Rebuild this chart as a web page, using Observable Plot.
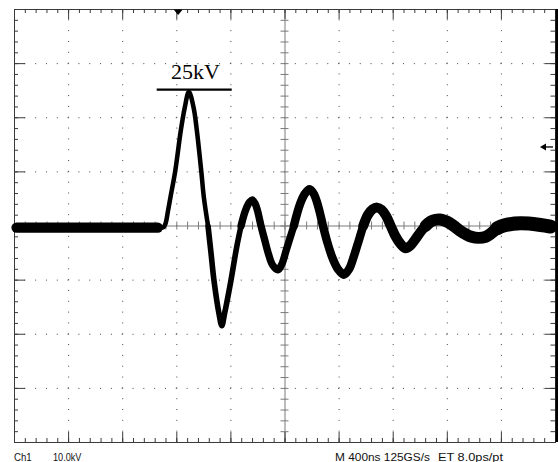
<!DOCTYPE html>
<html><head><meta charset="utf-8">
<script src="https://cdn.jsdelivr.net/npm/d3@7"></script>
<script src="https://cdn.jsdelivr.net/npm/@observablehq/plot@0.6"></script>
<style>
body{margin:0;background:#fff;}
#wrap{width:558px;height:462px;overflow:hidden;background:#fff;}
#wrap svg{display:block;}
</style></head><body><div id="wrap"></div>
<script>
// ---- data (time in ns, voltage in kV, noise half-band in kV) ----
const timeNs = [15,
  1060,1100,1116,1135,1153,1188,1230,1259,1289,1324,1348,1381,1400,
  1431,1453,1475,1512,1533,1553,1600,1642,
  1675,1708,1738,1758,1778,1797,1819,1849,1878,1908,1947,1974,2011,
  2065,2112,2148,2181,2214,2248,2281,2314,2351,2392,2435,2473,2509,2544,
  2578,2614,2647,2682,2714,2747,2782,2817,2854,2891,2928,2965,3002,
  3039,3076,3113,3145,3179,3213,3248,3290,3335,3379,3431,3483,3527,
  3569,3618,3741,3889,3963];
const voltageKV = [-0.3,
  -0.3,-0.25,0.4,2.8,5.3,10.1,17.7,21.9,24.8,21.9,17.7,10.1,5.3,
  0,-5.0,-10.1,-16.2,-18.4,-16.2,-10.1,-4.0,
  0,2.9,4.4,4.8,4.2,2.8,0.4,-2.5,-5.2,-7.2,-8.1,-7.2,-4.3,
  0,4.1,6.0,6.8,5.9,3.4,0,-3.1,-5.9,-8.0,-9.0,-8.0,-5.6,-2.8,
  0,2.1,3.1,3.4,3.0,1.9,0,-1.9,-3.3,-4.1,-3.6,-2.4,-1.1,
  0,0.8,1.15,1.2,1.0,0.6,0,-0.8,-1.5,-2.0,-2.2,-2.0,-1.3,
  -0.4,0.1,0.5,0.2,-0.1];
const noiseKV = [0.95,
  0.42,0.42,0.42,0.42,0.42,0.42,0.42,0.42,0.42,0.42,0.42,0.42,0.42,
  0.52,0.52,0.52,0.52,0.52,0.52,0.52,0.52,
  0.68,0.68,0.68,0.68,0.68,0.68,0.68,0.68,0.68,0.68,0.68,0.68,0.68,
  0.78,0.78,0.78,0.78,0.78,0.78,0.78,0.78,0.78,0.78,0.78,0.78,0.78,0.78,
  0.92,0.92,0.92,0.92,0.92,0.92,0.92,0.92,0.92,0.92,0.92,0.92,0.92,
  1.1,1.1,1.1,1.1,1.1,1.1,1.1,1.1,1.1,1.1,1.1,1.1,1.1,
  1.3,1.3,1.3,1.3,1.3];

const timePerDivNs = 400, kVPerDiv = 10, divisionsX = 10, divisionsY = 8, minorPerDiv = 5;
const peakLabel = "25kV";
const peakLevelKV = 25.2;
const peakMarkerNs = [1055, 1610];
const peakLabelNs = 1338;
const triggerTimeNs = 1210;
const triggerLevelKV = 14.6;
const readouts = ["Ch1", "10.0kV", "M 400ns 125GS/s", "ET 8.0ps/pt"];

// ---- layout ----
const W = 558, H = 446, mT = 9, mB = 4, mL = 14, mR = 3;
const tMax = timePerDivNs * divisionsX, vMax = kVPerDiv * divisionsY / 2;
const pxPerKV = (H - mT - mB) / (2 * vMax);
const pxPerNs = (W - mL - mR) / tMax;
const kv = px => px / pxPerKV, ns = px => px / pxPerNs;

const trace = timeNs.map((t, i) => ({t, v: voltageKV[i], n: noiseKV[i]}));
const minorT = d3.range(0, tMax + 1, timePerDivNs / minorPerDiv);
const majorT = d3.range(0, tMax + 1, timePerDivNs);
const minorV = d3.range(-vMax, vMax + 0.01, kVPerDiv / minorPerDiv);
const majorV = d3.range(-vMax, vMax + 0.01, kVPerDiv);
const gridT = majorT.filter(t => t > 0 && t < tMax && t !== tMax / 2);
const gridV = majorV.filter(v => v > -vMax && v < vMax && v !== 0);
const perV = (H - mT - mB) / (divisionsY * minorPerDiv);
const perH = (W - mL - mR) / (divisionsX * minorPerDiv);

const frameC = "#3a3a3a", centerC = "#7a7a7a", dotC = "#444";
const downTri = {draw(ctx) { ctx.moveTo(-4.5, -2.5); ctx.lineTo(4.5, -2.5); ctx.lineTo(0, 3); ctx.closePath(); }};
const headTri = {draw(ctx) { ctx.moveTo(-3.5, -2.5); ctx.lineTo(3.5, -2.5); ctx.lineTo(0, 3.5); ctx.closePath(); }};

const chart = Plot.plot({
  width: W, height: H, marginTop: mT, marginBottom: mB, marginLeft: mL, marginRight: mR,
  x: {domain: [0, tMax], axis: null},
  y: {domain: [-vMax, vMax], axis: null},
  style: {background: "#fff", overflow: "visible"},
  marks: [
    // dotted graticule
    Plot.ruleX(gridT, {stroke: dotC, strokeDasharray: `1,${perV - 1}`, strokeDashoffset: 0.5}),
    Plot.ruleY(gridV, {stroke: dotC, strokeDasharray: `1,${perH - 1}`, strokeDashoffset: 0.5}),
    // center crosshair with minor ticks
    Plot.ruleX([tMax / 2], {stroke: centerC}),
    Plot.ruleY([0], {stroke: centerC}),
    Plot.ruleX(minorT, {x: d => d, y1: -kv(4), y2: kv(4), stroke: centerC}),
    Plot.ruleY(minorV, {y: d => d, x1: tMax / 2 - ns(4), x2: tMax / 2 + ns(4), stroke: centerC}),
    // border ticks
    Plot.ruleX(minorT, {x: d => d, y1: vMax, y2: vMax - kv(4), stroke: frameC}),
    Plot.ruleX(minorT, {x: d => d, y1: -vMax, y2: -vMax + kv(4), stroke: frameC}),
    Plot.ruleX(majorT, {x: d => d, y1: vMax, y2: vMax - kv(10), stroke: frameC}),
    Plot.ruleX(majorT, {x: d => d, y1: -vMax, y2: -vMax + kv(10), stroke: frameC}),
    Plot.ruleY(minorV, {y: d => d, x1: 0, x2: ns(4), stroke: frameC}),
    Plot.ruleY(minorV, {y: d => d, x1: tMax, x2: tMax - ns(4.5), stroke: frameC}),
    Plot.ruleY(majorV, {y: d => d, x1: 0, x2: ns(11), stroke: frameC}),
    Plot.ruleY(majorV, {y: d => d, x1: tMax, x2: tMax - ns(10), stroke: frameC}),
    Plot.frame({stroke: frameC}),
    // waveform (stroke width follows the noise envelope)
    Plot.line(trace, {x: "t", y: "v", stroke: "black", strokeWidth: d => 2 * d.n * pxPerKV, curve: "catmull-rom", strokeLinecap: "round", strokeLinejoin: "round"}),
    // peak annotation
    Plot.ruleY([peakLevelKV], {x1: peakMarkerNs[0], x2: peakMarkerNs[1], stroke: "black", strokeWidth: 2.2}),
    Plot.text([peakLabel], {x: peakLabelNs, y: peakLevelKV, dy: -11, text: d => d, lineAnchor: "bottom", textAnchor: "middle", fontFamily: "Liberation Serif, Times New Roman, serif", fontSize: 22, fill: "black"}),
    // trigger markers
    Plot.dot([triggerTimeNs], {x: d => d, y: vMax, dy: 2.5, symbol: downTri, fill: "black", stroke: "none"}),
    Plot.ruleY([triggerLevelKV], {x1: tMax - ns(11), x2: tMax - ns(2), stroke: "black", strokeWidth: 1.3}),
    Plot.dot([triggerLevelKV], {x: tMax - ns(12), y: d => d, symbol: headTri, rotate: 90, fill: "black", stroke: "none"}),
    // thick right edge of the screen
    Plot.ruleX([tMax], {stroke: "black", strokeWidth: 3, dx: 1.5})
  ]
});
document.getElementById("wrap").appendChild(chart);

// readout line under the screen
const foot = d3.select("#wrap").append("svg").attr("width", W).attr("height", 462 - H);
const footX = [14, 53, 335, 438], footLen = [17.7, 28.4, 95, 65];
foot.selectAll("text").data(readouts).join("text")
  .attr("x", (d, i) => footX[i]).attr("y", 15.3)
  .attr("textLength", (d, i) => footLen[i]).attr("lengthAdjust", "spacingAndGlyphs")
  .attr("font-family", "Liberation Sans, Arial, sans-serif").attr("font-size", 10).attr("fill", "#111")
  .text(d => d);
</script></body></html>
